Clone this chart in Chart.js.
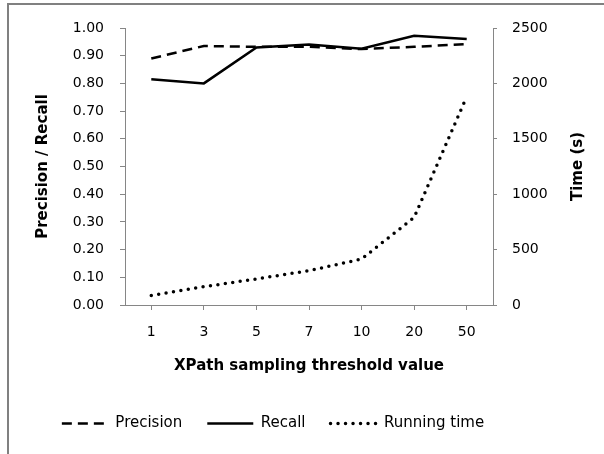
<!DOCTYPE html>
<html><head><meta charset="utf-8">
<script src="https://cdn.jsdelivr.net/npm/chart.js@4"></script>
<style>
html,body{margin:0;padding:0;background:#fff;}
#wrap{position:relative;width:604px;height:454px;overflow:hidden;background:#fff;}
#frame{position:absolute;left:7px;top:3px;width:700px;height:600px;border-left:2.5px solid #808080;border-top:2px solid #808080;}
canvas{position:absolute;left:0;top:0;}
</style></head><body>
<div id="wrap"><div id="frame"></div><canvas id="c" width="604" height="454"></canvas></div>
<script>
const categories = ['1', '3', '5', '7', '10', '20', '50'];
const precision = [0.89, 0.935, 0.932, 0.932, 0.924, 0.932, 0.942];
const recall = [0.815, 0.80, 0.93, 0.94, 0.925, 0.972, 0.96];
const runningTime = [85, 165, 235, 310, 415, 790, 1880];
const xTitle = 'XPath sampling threshold value';
const leftTitle = 'Precision / Recall';
const rightTitle = 'Time (s)';

const AXIS = '#868686';
const FONT = 'DejaVu Sans';
const TXT = '#000';

const legendShift = {
  id: 'legendShift',
  afterLayout(chart) {
    const lg = chart.legend;
    if (!lg || !lg.lineWidths) return;
    const pad = lg.options.labels.padding;
    const total = lg.lineWidths[0] - pad;
    const cur = (lg.left + pad + lg.right - lg.lineWidths[0]) / 2;
    const d = (273 - total / 2) - cur;
    lg.left += d; lg.right += d;
  }
};
const rightTitlePlugin = {
  id: 'rightTitlePlugin',
  afterDraw(chart) {
    const {ctx, chartArea} = chart;
    const s = chart.scales.y1;
    ctx.save();
    ctx.translate(s.right - 22, (chartArea.top + chartArea.bottom) / 2);
    ctx.rotate(-Math.PI / 2);
    ctx.font = 'bold 15px "' + FONT + '"';
    ctx.fillStyle = TXT;
    ctx.textAlign = 'center';
    ctx.textBaseline = 'middle';
    ctx.fillText(rightTitle, 0, 0);
    ctx.restore();
  }
};

new Chart(document.getElementById('c'), {
  type: 'line',
  data: {
    labels: categories,
    datasets: [
      {label: 'Precision', data: precision, yAxisID: 'y', borderColor: '#000', backgroundColor: '#000',
       borderWidth: 2.5, borderDash: [10, 6], borderCapStyle: 'butt', pointRadius: 0, tension: 0, fill: false},
      {label: 'Recall', data: recall, yAxisID: 'y', borderColor: '#000', backgroundColor: '#000',
       borderWidth: 2.5, borderCapStyle: 'butt', pointRadius: 0, tension: 0, fill: false},
      {label: 'Running time', data: runningTime, yAxisID: 'y1', borderColor: '#000', backgroundColor: '#000',
       borderWidth: 3.5, borderDash: [0, 7.5], borderCapStyle: 'round', pointRadius: 0, tension: 0, fill: false}
    ]
  },
  options: {
    responsive: false, animation: false, devicePixelRatio: 1,
    layout: {padding: {left: 10, right: 4, top: 28, bottom: 13}},
    plugins: {
      legend: {position: 'bottom', labels: {usePointStyle: true, pointStyle: 'line', pointStyleWidth: 46,
        padding: 25, color: TXT, font: {family: FONT, size: 15},
        generateLabels(chart) {
          const items = Chart.defaults.plugins.legend.labels.generateLabels(chart);
          items.forEach(it => {
            const ds = chart.data.datasets[it.datasetIndex];
            it.lineDash = ds.borderDash || [];
            it.lineCap = ds.borderCapStyle || 'butt';
            it.lineWidth = ds.borderWidth;
            it.strokeStyle = ds.borderColor;
            it.pointStyle = 'line';
          });
          return items;
        }}},
      tooltip: {enabled: false}
    },
    scales: {
      x: {
        offset: true,
        grid: {display: true, drawOnChartArea: false, drawTicks: true, tickLength: 5, color: AXIS, offset: false},
        border: {color: AXIS},
        ticks: {color: TXT, font: {family: FONT, size: 14}, padding: 14, maxRotation: 0, autoSkip: false},
        title: {display: true, text: xTitle, color: TXT, font: {family: FONT, size: 15, weight: 'bold'}, padding: {top: 0, bottom: 16}},
        afterFit(s) { s.height = 86; }
      },
      y: {
        position: 'left', min: 0, max: 1,
        ticks: {stepSize: 0.1, callback: v => Number(v).toFixed(2), color: TXT, font: {family: FONT, size: 14}, padding: 16},
        grid: {drawOnChartArea: false, drawTicks: true, tickLength: 5, color: AXIS},
        border: {color: AXIS},
        title: {display: true, text: leftTitle, color: TXT, font: {family: FONT, size: 15, weight: 'bold'}, padding: {top: 24, bottom: 0}},
        afterFit(s) { s.width = 115; }
      },
      y1: {
        position: 'right', min: 0, max: 2500,
        ticks: {stepSize: 500, callback: v => String(v), color: TXT, font: {family: FONT, size: 14}, padding: 15},
        grid: {drawOnChartArea: false, drawTicks: true, tickLength: 4, color: AXIS},
        border: {color: AXIS},
        afterFit(s) { s.width = 107; }
      }
    }
  },
  plugins: [legendShift, rightTitlePlugin]
});
</script>
</body></html>
